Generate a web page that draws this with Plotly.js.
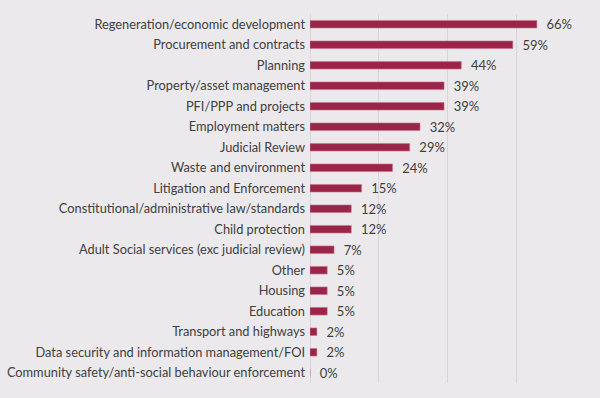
<!DOCTYPE html>
<html><head><meta charset="utf-8">
<script src="https://cdn.plot.ly/plotly-3.0.1.min.js"></script>
<style>html,body{margin:0;padding:0;background:#ebe9ec;}</style>
</head><body><div id="chart" style="width:600px;height:398px;"></div>
<script>
const categories = [
  "Regeneration/economic development",
  "Procurement and contracts",
  "Planning",
  "Property/asset management",
  "PFI/PPP and projects",
  "Employment matters",
  "Judicial Review",
  "Waste and environment",
  "Litigation and Enforcement",
  "Constitutional/administrative law/standards",
  "Child protection",
  "Adult Social services (exc judicial review)",
  "Other",
  "Housing",
  "Education",
  "Transport and highways",
  "Data security and information management/FOI",
  "Community safety/anti-social behaviour enforcement"
];
const values = [66, 59, 44, 39, 39, 32, 29, 24, 15, 12, 12, 7, 5, 5, 5, 2, 2, 0];
const valueLabels = values.map(v => "\u00a0\u00a0" + v + "%");

Plotly.newPlot("chart", [{
  type: "bar",
  orientation: "h",
  y: categories,
  x: values,
  text: valueLabels,
  textposition: "outside",
  constraintext: "none",
  cliponaxis: false,
  textfont: {family: "Lato, 'Open Sans', sans-serif", size: 13, color: "#404040"},
  marker: {color: "#9b2449", line: {color: "#c8778f", width: 0.6}},
  hoverinfo: "none"
}], {
  width: 600, height: 398,
  margin: {l: 310, r: 15, t: 14, b: 15},
  paper_bgcolor: "#ebe9ec",
  plot_bgcolor: "#ebe9ec",
  bargap: 0.63,
  showlegend: false,
  font: {family: "Lato, 'Open Sans', sans-serif", size: 12.8, color: "#404040"},
  xaxis: {range: [0, 80], dtick: 20, showgrid: true, gridcolor: "#d8d6d9", gridwidth: 1,
          showticklabels: false, zeroline: true, zerolinecolor: "#d8d6d9", zerolinewidth: 1, fixedrange: true},
  yaxis: {autorange: "reversed", showgrid: false, ticks: "", ticklen: 0, ticklabelstandoff: 4,
          tickfont: {family: "Lato, 'Open Sans', sans-serif", size: 12.8, color: "#404040"}, fixedrange: true}
}, {displayModeBar: false, staticPlot: true});
</script></body></html>
